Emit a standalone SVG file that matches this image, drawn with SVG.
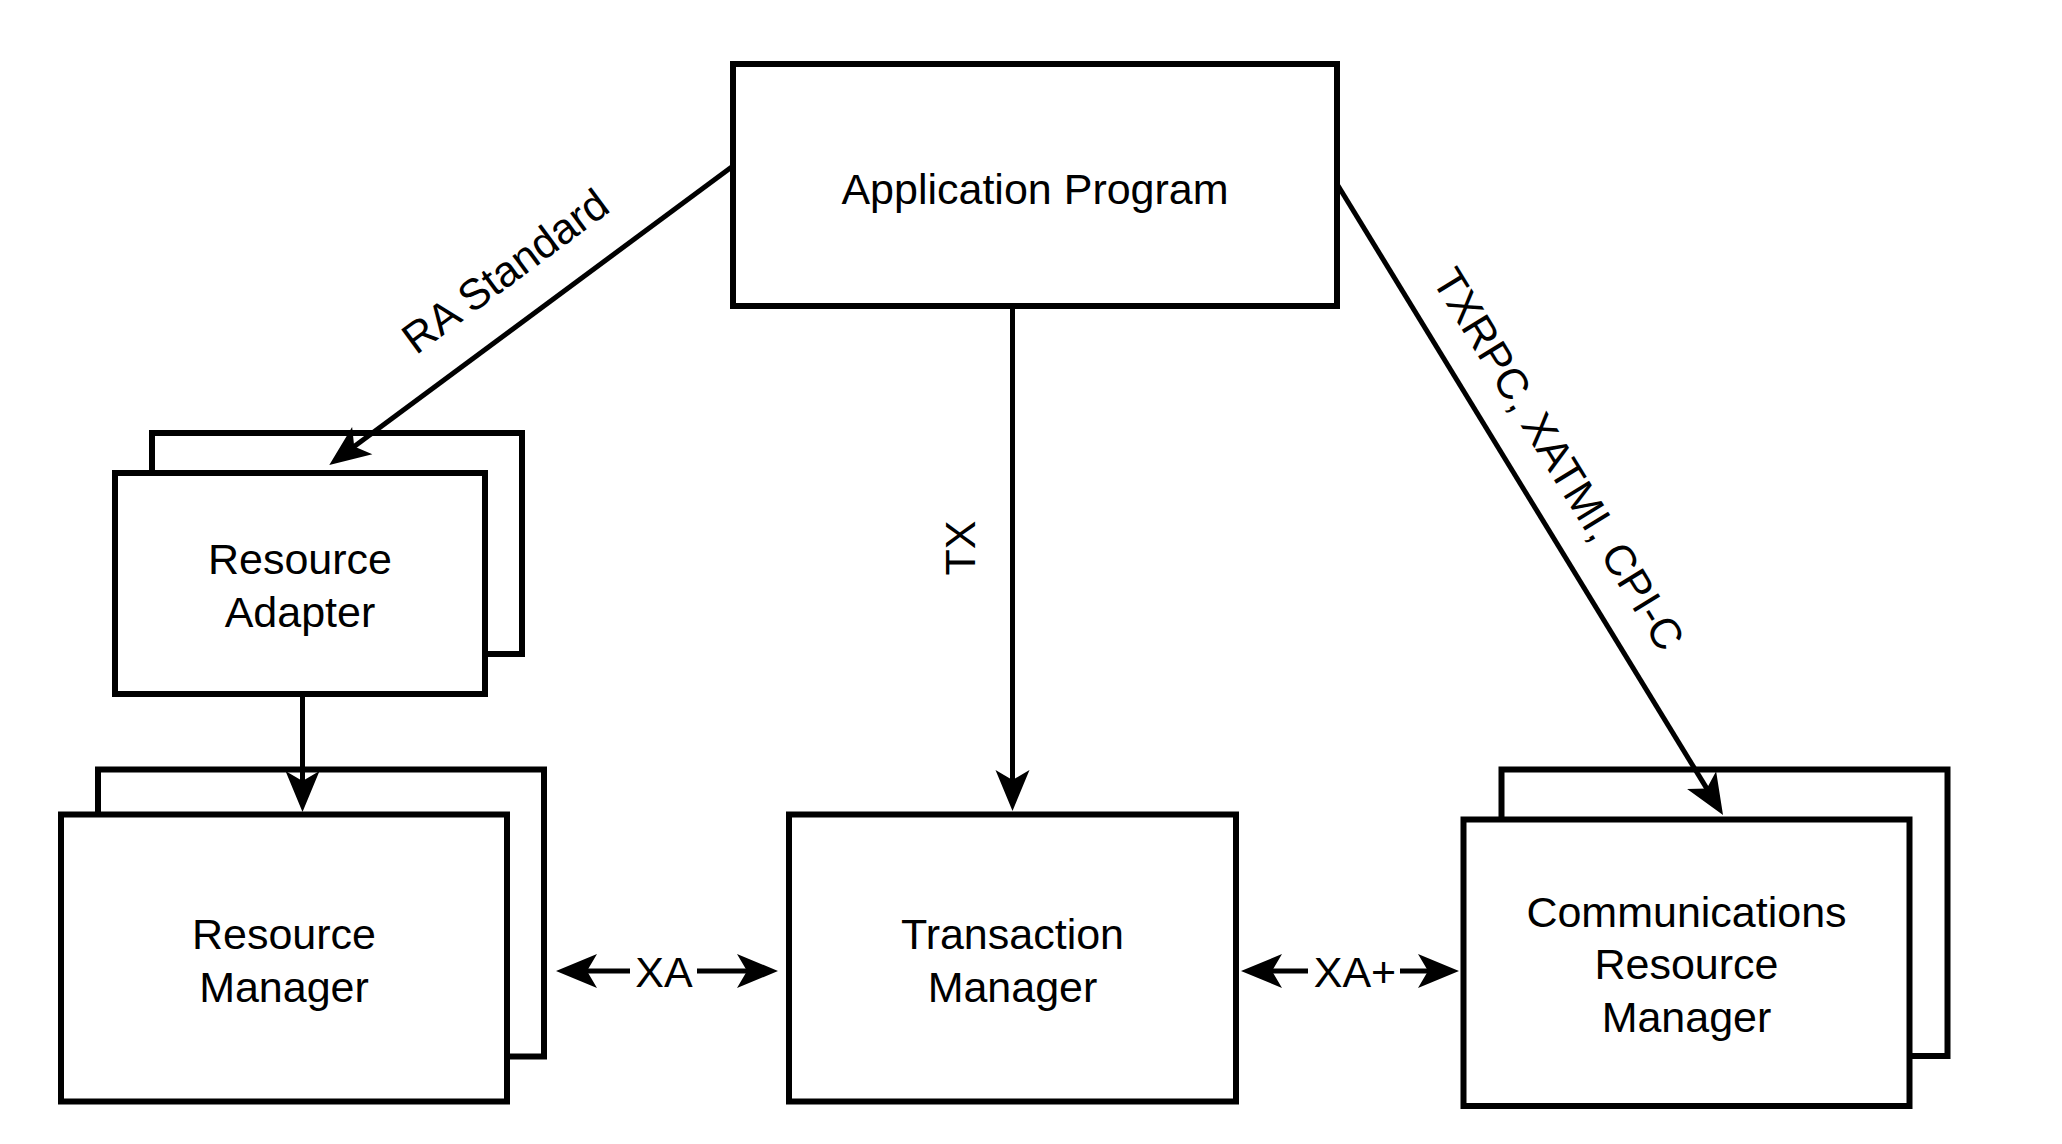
<svg xmlns="http://www.w3.org/2000/svg" width="2062" height="1144" viewBox="0 0 2062 1144">
  <defs>
    <style>
      .box { fill: #ffffff; stroke: #000000; stroke-width: 6; }
      .lbl { font-family: "Liberation Sans", Arial, Helvetica, sans-serif; font-size: 43px; fill: #000000; text-anchor: middle; }
      .conn { fill: none; stroke: #000000; stroke-width: 5; }
      .bg { fill: #ffffff; stroke: none; }
    </style>
    <marker id="ah" viewBox="0 -18 42 36" markerWidth="42" markerHeight="36" refX="13" refY="0" orient="auto-start-reverse" markerUnits="userSpaceOnUse">
      <path d="M0,-17 L41,0 L0,17 L10,0 Z" fill="#000000"/>
    </marker>
  </defs>
  <rect width="2062" height="1144" fill="#ffffff"/>

  <g id="application-program">
    <rect class="box" x="733" y="64" width="604" height="242"/>
    <text class="lbl" x="1035" y="204">Application Program</text>
  </g>

  <g id="resource-adapter">
    <rect class="box" x="152" y="433" width="370" height="221"/>
    <rect class="box" x="115" y="473" width="370" height="221"/>
    <text class="lbl" x="300" y="574">Resource</text>
    <text class="lbl" x="300" y="626.5">Adapter</text>
  </g>

  <g id="resource-manager">
    <rect class="box" x="98" y="769.5" width="446" height="287"/>
    <rect class="box" x="61" y="814.5" width="446" height="287"/>
    <text class="lbl" x="284" y="949">Resource</text>
    <text class="lbl" x="284" y="1001.5">Manager</text>
  </g>

  <g id="transaction-manager">
    <rect class="box" x="789" y="814.5" width="447" height="287"/>
    <text class="lbl" x="1012.5" y="949">Transaction</text>
    <text class="lbl" x="1012.5" y="1001.5">Manager</text>
  </g>

  <g id="communications-resource-manager">
    <rect class="box" x="1501.5" y="769.5" width="446" height="286.5"/>
    <rect class="box" x="1463.5" y="819.5" width="446" height="286.5"/>
    <text class="lbl" x="1686.5" y="926.5">Communications</text>
    <text class="lbl" x="1686.5" y="979">Resource</text>
    <text class="lbl" x="1686.5" y="1031.5">Manager</text>
  </g>

  <g id="connectors">
    <line class="conn" x1="733" y1="166" x2="351.8" y2="448.3" marker-end="url(#ah)"/>
    <text class="lbl" x="514" y="283" transform="rotate(-36.5 514 283)">RA Standard</text>

    <line class="conn" x1="1012.5" y1="306" x2="1012.5" y2="783" marker-end="url(#ah)"/>
    <text class="lbl" x="975" y="548" transform="rotate(-90 975 548)">TX</text>

    <line class="conn" x1="1337" y1="184" x2="1708.4" y2="791.1" marker-end="url(#ah)"/>
    <text class="lbl" x="1546" y="467" transform="rotate(58.5 1546 467)">TXRPC, XATMI, CPI-C</text>

    <line class="conn" x1="302.5" y1="694" x2="302.5" y2="784" marker-end="url(#ah)"/>

    <line class="conn" x1="584" y1="971" x2="750" y2="971" marker-start="url(#ah)" marker-end="url(#ah)"/>
    <rect class="bg" x="630" y="952" width="67" height="40"/>
    <text class="lbl" x="664" y="987">XA</text>

    <line class="conn" x1="1269" y1="971" x2="1431" y2="971" marker-start="url(#ah)" marker-end="url(#ah)"/>
    <rect class="bg" x="1308" y="952" width="92" height="40"/>
    <text class="lbl" x="1355" y="987">XA+</text>
  </g>
</svg>
